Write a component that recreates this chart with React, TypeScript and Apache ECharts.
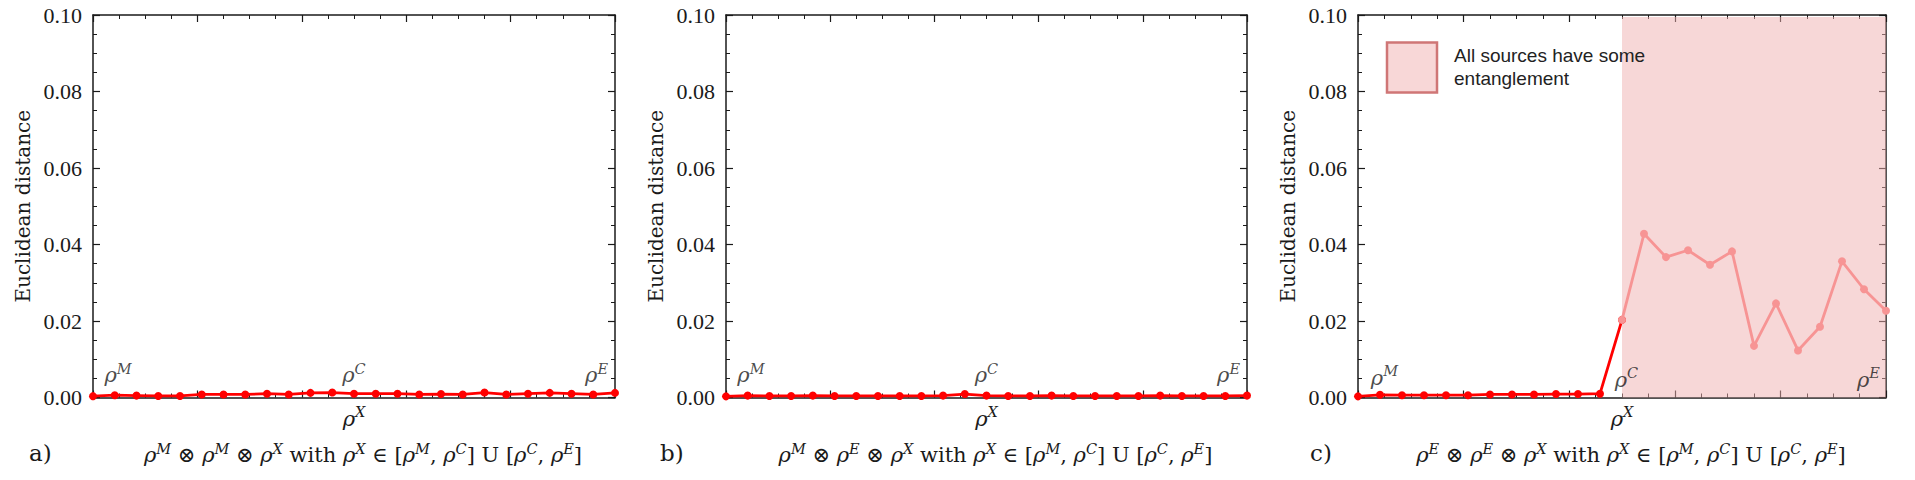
import React, { useEffect, useRef } from "react";
import * as echarts from "echarts";

// sample index along the path rho^M -> rho^C -> rho^E (rho^C at index 12)
const SAMPLE_POS = [0, 1, 2, 3, 4, 5, 6, 7, 8, 9, 10, 11, 12, 13, 14, 15, 16, 17, 18, 19, 20, 21, 22, 23, 24];

const DIST_A = [0.00035, 0.0006, 0.0005, 0.0004, 0.0004, 0.0008, 0.0008, 0.0008, 0.001, 0.0008, 0.0012, 0.0013, 0.001, 0.001, 0.001, 0.0008, 0.0009, 0.0008, 0.0013, 0.0008, 0.001, 0.0012, 0.001, 0.0008, 0.0012];
const DIST_B = [0.0003, 0.0005, 0.0004, 0.0004, 0.0005, 0.0004, 0.0004, 0.0004, 0.0004, 0.0004, 0.0005, 0.0009, 0.0005, 0.0004, 0.0004, 0.0005, 0.0004, 0.0004, 0.0004, 0.0004, 0.0005, 0.0004, 0.0004, 0.0004, 0.0005];
const DIST_C_SEPARABLE = [0.0003, 0.0007, 0.0006, 0.0006, 0.0006, 0.0006, 0.0008, 0.0008, 0.0008, 0.0009, 0.0009, 0.001, 0.0203];
const DIST_C_ENTANGLED = [0.0203, 0.0428, 0.0367, 0.0385, 0.0347, 0.0382, 0.0135, 0.0246, 0.0123, 0.0185, 0.0356, 0.0283, 0.0227];

const Y_MIN = 0;
const Y_MAX = 0.1;
const Y_STEP = 0.02;
const X_MIN = 0;
const X_MAX = 24;
const X_STEP = 4.8;

const PANEL_LABELS = ["a)", "b)", "c)"];
const PANEL_FACTORS = [["M", "M"], ["M", "E"], ["E", "E"]];
const ANCHOR_NAMES = ["M", "C", "E"];
const Y_NAME = "Euclidean distance";
const LEGEND_TEXT = "All sources have some\nentanglement";
const SHADE_FROM = 12;

const SERIF = "'Liberation Serif', 'DejaVu Serif', serif";
const MATH = "'DejaVu Serif', 'Liberation Serif', serif";
const SANS = "'Liberation Sans', Arial, sans-serif";
const INK = "#1a1a1a";
const RED = "#ff0000";
const PINK_LINE = "#f79494";

const GRIDS = [
  { left: 93, top: 15, width: 522, height: 382.5 },
  { left: 726, top: 15, width: 521, height: 382.5 },
  { left: 1358, top: 15, width: 528, height: 382.5 },
];

const rich = {
  r: { fontFamily: MATH, fontSize: 21, fontStyle: "italic", lineHeight: 30, color: INK },
  n: { fontFamily: MATH, fontSize: 21, lineHeight: 30, color: INK },
  s: { fontFamily: MATH, fontSize: 14.5, fontStyle: "italic", lineHeight: 30, padding: [0, 0, 13, 0], color: INK },
};

const rho = (sup: string) => `{r|ρ}{s|${sup}}`;

function formula(f: string[]) {
  return (
    `${rho(f[0])}{n| ⊗ }${rho(f[1])}{n| ⊗ }${rho("X")}{n| with }${rho("X")}{n| ∈ [}` +
    `${rho("M")}{n|, }${rho("C")}{n|] U [}${rho("C")}{n|, }${rho("E")}{n|]}`
  );
}

const axisLineStyle = { color: INK, width: 1.5 };

function xAxesFor(gi: number) {
  const base = {
    type: "value",
    gridIndex: gi,
    min: X_MIN,
    max: X_MAX,
    interval: X_STEP,
    axisLine: { show: true, onZero: false, lineStyle: axisLineStyle },
    axisTick: { show: true, inside: true, length: 7, lineStyle: { color: INK, width: 1.2 } },
    minorTick: { show: true, splitNumber: 4, length: 4, lineStyle: { color: INK, width: 1 } },
    axisLabel: { show: false },
    splitLine: { show: false },
    minorSplitLine: { show: false },
  };
  return [
    {
      ...base,
      position: "bottom",
      name: rho("X"),
      nameLocation: "middle",
      nameGap: 6,
      nameTextStyle: { rich },
    },
    { ...base, position: "top" },
  ];
}

function yAxesFor(gi: number) {
  const base = {
    type: "value",
    gridIndex: gi,
    min: Y_MIN,
    max: Y_MAX,
    interval: Y_STEP,
    axisLine: { show: true, onZero: false, lineStyle: axisLineStyle },
    axisTick: { show: true, inside: true, length: 7, lineStyle: { color: INK, width: 1.2 } },
    minorTick: { show: true, splitNumber: 4, length: 4, lineStyle: { color: INK, width: 1 } },
    splitLine: { show: false },
    minorSplitLine: { show: false },
  };
  return [
    {
      ...base,
      position: "left",
      axisLabel: {
        show: true,
        margin: 11,
        fontFamily: SERIF,
        fontSize: 22,
        color: INK,
        formatter: (v: number) => v.toFixed(2),
      },
      name: Y_NAME,
      nameLocation: "middle",
      nameGap: 60,
      nameTextStyle: { fontFamily: MATH, fontSize: 20, color: INK },
    },
    { ...base, position: "right", axisLabel: { show: false } },
  ];
}

function lineSeries(gi: number, xs: number[], ys: number[], color: string, z: number, extra: any = {}) {
  return {
    type: "line",
    xAxisIndex: gi * 2,
    yAxisIndex: gi * 2,
    data: ys.map((v, i) => [xs[i], v]),
    symbol: "circle",
    symbolSize: 8,
    showSymbol: true,
    lineStyle: { color, width: 2.8 },
    itemStyle: { color },
    z,
    silent: true,
    ...extra,
  };
}

function anchorSeries(gi: number, positions: number[], heights: number[]) {
  return {
    type: "scatter",
    xAxisIndex: gi * 2,
    yAxisIndex: gi * 2,
    symbolSize: 1,
    itemStyle: { color: "rgba(0,0,0,0)" },
    silent: true,
    z: 10,
    label: { show: true, position: "inside", align: "center", verticalAlign: "middle", rich },
    data: ANCHOR_NAMES.map((n, i) => ({
      value: [positions[i], heights[i]],
      label: { formatter: rho(n) },
    })),
  };
}

export default function App() {
  const ref = useRef<HTMLDivElement>(null);

  useEffect(() => {
    if (!ref.current) return;
    const chart = echarts.init(ref.current, null, { renderer: "svg" });

    const series: any[] = [
      lineSeries(0, SAMPLE_POS, DIST_A, RED, 3),
      lineSeries(1, SAMPLE_POS, DIST_B, RED, 3),
      lineSeries(2, SAMPLE_POS.slice(0, DIST_C_SEPARABLE.length), DIST_C_SEPARABLE, RED, 3),
      lineSeries(2, SAMPLE_POS.slice(SHADE_FROM), DIST_C_ENTANGLED, PINK_LINE, 4, {
        markArea: {
          silent: true,
          itemStyle: { color: "rgba(240,175,175,0.5)" },
          data: [[{ xAxis: SHADE_FROM, yAxis: Y_MIN }, { xAxis: X_MAX, yAxis: 0.0995 }]],
        },
      }),
      anchorSeries(0, [1.15, 12, 23.15], [0.0058, 0.0058, 0.0058]),
      anchorSeries(1, [1.15, 12, 23.15], [0.0058, 0.0058, 0.0058]),
      anchorSeries(2, [1.2, 12.2, 23.2], [0.0052, 0.0047, 0.0047]),
    ];

    const graphic: any[] = [];
    GRIDS.forEach((g, gi) => {
      graphic.push({
        type: "text",
        x: [29, 660, 1310][gi],
        y: 453,
        silent: true,
        style: {
          text: PANEL_LABELS[gi],
          fontFamily: MATH,
          fontSize: 23,
          fill: INK,
          align: "left",
          textAlign: "left",
          verticalAlign: "middle",
          textVerticalAlign: "middle",
        },
      });
      graphic.push({
        type: "text",
        x: g.left + g.width / 2 + 9,
        y: 455,
        silent: true,
        style: {
          text: formula(PANEL_FACTORS[gi]),
          rich,
          fontFamily: MATH,
          fontSize: 21,
          fill: INK,
          align: "center",
          textAlign: "center",
          verticalAlign: "middle",
          textVerticalAlign: "middle",
        },
      });
    });
    graphic.push({
      type: "rect",
      silent: true,
      z: 20,
      shape: { x: 1387, y: 42.5, width: 50, height: 50 },
      style: { fill: "#f8d7d7", stroke: "#cf7676", lineWidth: 2.5 },
    });
    graphic.push({
      type: "text",
      x: 1454,
      y: 44,
      silent: true,
      z: 20,
      style: {
        text: LEGEND_TEXT,
        fontFamily: SANS,
        fontSize: 19,
        lineHeight: 23,
        fill: "#222",
        align: "left",
        textAlign: "left",
        verticalAlign: "top",
        textVerticalAlign: "top",
      },
    });

    chart.setOption({
      animation: false,
      backgroundColor: "#ffffff",
      grid: GRIDS.map((g) => ({ ...g, containLabel: false })),
      xAxis: [0, 1, 2].flatMap((gi) => xAxesFor(gi)),
      yAxis: [0, 1, 2].flatMap((gi) => yAxesFor(gi)),
      series,
      graphic,
    });

    return () => chart.dispose();
  }, []);

  return (
    <div
      ref={ref}
      style={{ position: "absolute", left: 0, top: 0, width: 1915, height: 480 }}
    />
  );
}
